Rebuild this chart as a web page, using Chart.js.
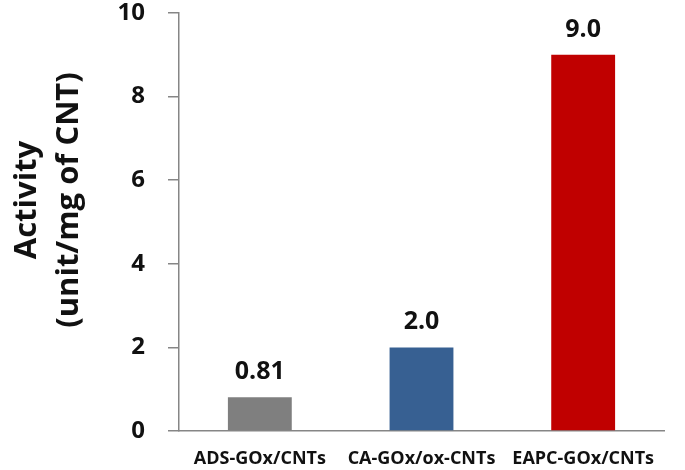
<!DOCTYPE html>
<html>
<head>
<meta charset="utf-8">
<script src="https://cdn.jsdelivr.net/npm/chart.js@4"></script>
<style>
  html, body { margin: 0; padding: 0; background: #fff; }
  #wrap { width: 685px; height: 470px; position: relative; }
</style>
</head>
<body>
<div id="wrap"><canvas id="activitychart"></canvas></div>
<script>
// chart data
const categories = ["ADS-GOx/CNTs", "CA-GOx/ox-CNTs", "EAPC-GOx/CNTs"];
const activityValues = [0.81, 2.0, 9.0];
const valueLabels = ["0.81", "2.0", "9.0"];
const barColors = ["#7f7f7f", "#376092", "#c00000"];
const yTicks = [0, 2, 4, 6, 8, 10];
const yTitle = ["Activity", "(unit/mg of CNT)"];

const FONT = "'Open Sans', 'Noto Sans', sans-serif";

// value labels above bars + two line y title
const labelsPlugin = {
  id: "labelsPlugin",
  afterDatasetsDraw(chart) {
    const ctx = chart.ctx;
    const meta = chart.getDatasetMeta(0);
    ctx.save();
    ctx.fillStyle = "#111";
    ctx.font = "bold 25px " + FONT;
    ctx.textAlign = "center";
    ctx.textBaseline = "alphabetic";
    meta.data.forEach((bar, i) => {
      ctx.fillText(valueLabels[i], bar.x, bar.y - 18);
    });
    ctx.restore();

    // axis title
    const cy = 200;
    ctx.save();
    ctx.fillStyle = "#111";
    ctx.font = "bold 31px " + FONT;
    ctx.textAlign = "center";
    ctx.textBaseline = "alphabetic";
    [36, 78].forEach((bx, i) => {
      ctx.save();
      ctx.translate(bx, cy);
      ctx.rotate(-Math.PI / 2);
      ctx.fillText(yTitle[i], 0, 0);
      ctx.restore();
    });
    ctx.restore();
  },
};

const ctx = document.getElementById("activitychart").getContext("2d");
const myChart = new Chart(ctx, {
  type: "bar",
  data: {
    labels: categories,
    datasets: [
      {
        data: activityValues,
        backgroundColor: barColors,
        borderWidth: 0,
        categoryPercentage: 1.0,
        barPercentage: 0.395,
      },
    ],
  },
  options: {
    responsive: true,
    maintainAspectRatio: false,
    animation: false,
    layout: {
      padding: { top: 13, right: 21, bottom: 0, left: 0 },
    },
    plugins: {
      legend: { display: false },
      tooltip: { enabled: false },
    },
    scales: {
      x: {
        grid: { display: false, drawTicks: false },
        border: { color: "#868686", width: 1.5 },
        ticks: {
          color: "#111",
          font: { family: FONT, size: 18, weight: "bold" },
          padding: 17,
          maxRotation: 0,
        },
        afterFit(scale) {
          scale.height = 39;
          scale.paddingLeft = 0;
          scale.paddingRight = 0;
        },
      },
      y: {
        min: 0,
        max: 10,
        afterBuildTicks(scale) {
          scale.ticks = yTicks.map((v) => ({ value: v }));
        },
        grid: {
          drawOnChartArea: false,
          drawTicks: true,
          tickLength: 11,
          color: "#868686",
          lineWidth: 1.5,
        },
        border: { color: "#868686", width: 1.5 },
        ticks: {
          color: "#111",
          font: { family: FONT, size: 24, weight: "bold" },
          padding: 23,
        },
        afterFit(scale) {
          scale.width = 179;
          scale.paddingTop = 0;
          scale.paddingBottom = 0;
        },
      },
    },
  },
  plugins: [labelsPlugin],
});
</script>
</body>
</html>
